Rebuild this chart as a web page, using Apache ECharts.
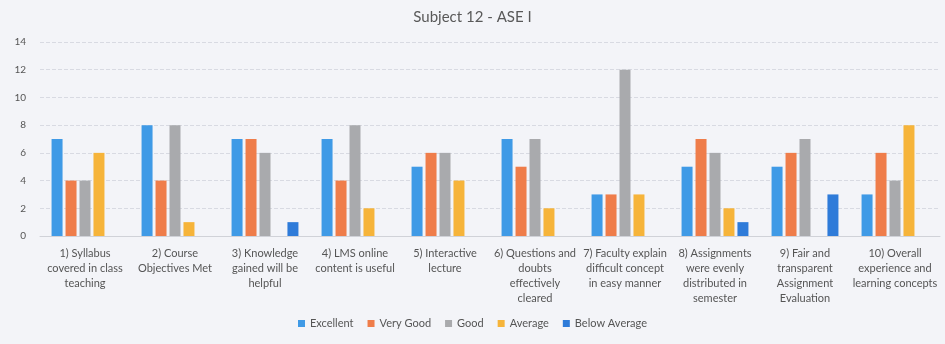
<!DOCTYPE html>
<html>
<head>
<meta charset="utf-8">
<script src="https://cdn.jsdelivr.net/npm/echarts@6/dist/echarts.min.js"></script>
<style>
  html, body { margin: 0; padding: 0; background: #f3f4f8; }
  #chart { width: 945px; height: 344px; }
</style>
</head>
<body>
<div id="chart"></div>
<script>
// Feedback questions (x axis)
const categories = [
  "1) Syllabus\ncovered in class\nteaching",
  "2) Course\nObjectives Met",
  "3) Knowledge\ngained will be\nhelpful",
  "4) LMS online\ncontent is useful",
  "5) Interactive\nlecture",
  "6) Questions and\ndoubts\neffectively\ncleared",
  "7) Faculty explain\ndifficult concept\nin easy manner",
  "8) Assignments\nwere evenly\ndistributed in\nsemester",
  "9) Fair and\ntransparent\nAssignment\nEvaluation",
  "10) Overall\nexperience and\nlearning concepts"
];

// Response counts per rating
const excellent    = [7, 8, 7, 7, 5, 7, 3, 5, 5, 3];
const veryGood     = [4, 4, 7, 4, 6, 5, 3, 7, 6, 6];
const good         = [4, 8, 6, 8, 6, 7, 12, 6, 7, 4];
const average      = [6, 1, 0, 2, 4, 2, 3, 2, 0, 8];
const belowAverage = [0, 0, 1, 0, 0, 0, 0, 1, 3, 0];

const seriesNames = ["Excellent", "Very Good", "Good", "Average", "Below Average"];
const seriesData = [excellent, veryGood, good, average, belowAverage];
const colors = ["#3f9ae6", "#ef7d4a", "#a9aaad", "#f6b43a", "#2e7bd9"];

const chart = echarts.init(document.getElementById("chart"));
const font = "Lato, 'Open Sans', sans-serif";

chart.setOption({
  backgroundColor: "#f3f4f8",
  animation: false,
  color: colors,
  title: {
    text: "Subject 12 - ASE I",
    left: "center",
    top: 5,
    textStyle: { fontFamily: font, fontSize: 15, fontWeight: "normal", color: "#595959" }
  },
  legend: {
    bottom: 10,
    left: "center",
    itemWidth: 7,
    itemHeight: 7,
    itemGap: 14,
    icon: "rect",
    textStyle: { fontFamily: font, fontSize: 11, color: "#555" },
    data: seriesNames
  },
  grid: { left: 40, right: 5, top: 42, bottom: 108 },
  xAxis: {
    type: "category",
    data: categories,
    axisTick: { show: false },
    axisLine: { lineStyle: { color: "#d0d2d8" } },
    axisLabel: {
      interval: 0,
      margin: 10,
      fontFamily: font,
      fontSize: 11,
      lineHeight: 15,
      color: "#555"
    }
  },
  yAxis: {
    type: "value",
    min: 0,
    max: 14,
    interval: 2,
    axisLine: { show: false },
    axisTick: { show: false },
    axisLabel: { fontFamily: font, fontSize: 10, color: "#555", margin: 14 },
    splitLine: { lineStyle: { color: "#d8dae2", type: "dashed" } }
  },
  series: seriesNames.map((name, i) => ({
    name: name,
    type: "bar",
    data: seriesData[i],
    barWidth: 11,
    barGap: "27%",
    itemStyle: { color: colors[i] }
  }))
});
</script>
</body>
</html>
